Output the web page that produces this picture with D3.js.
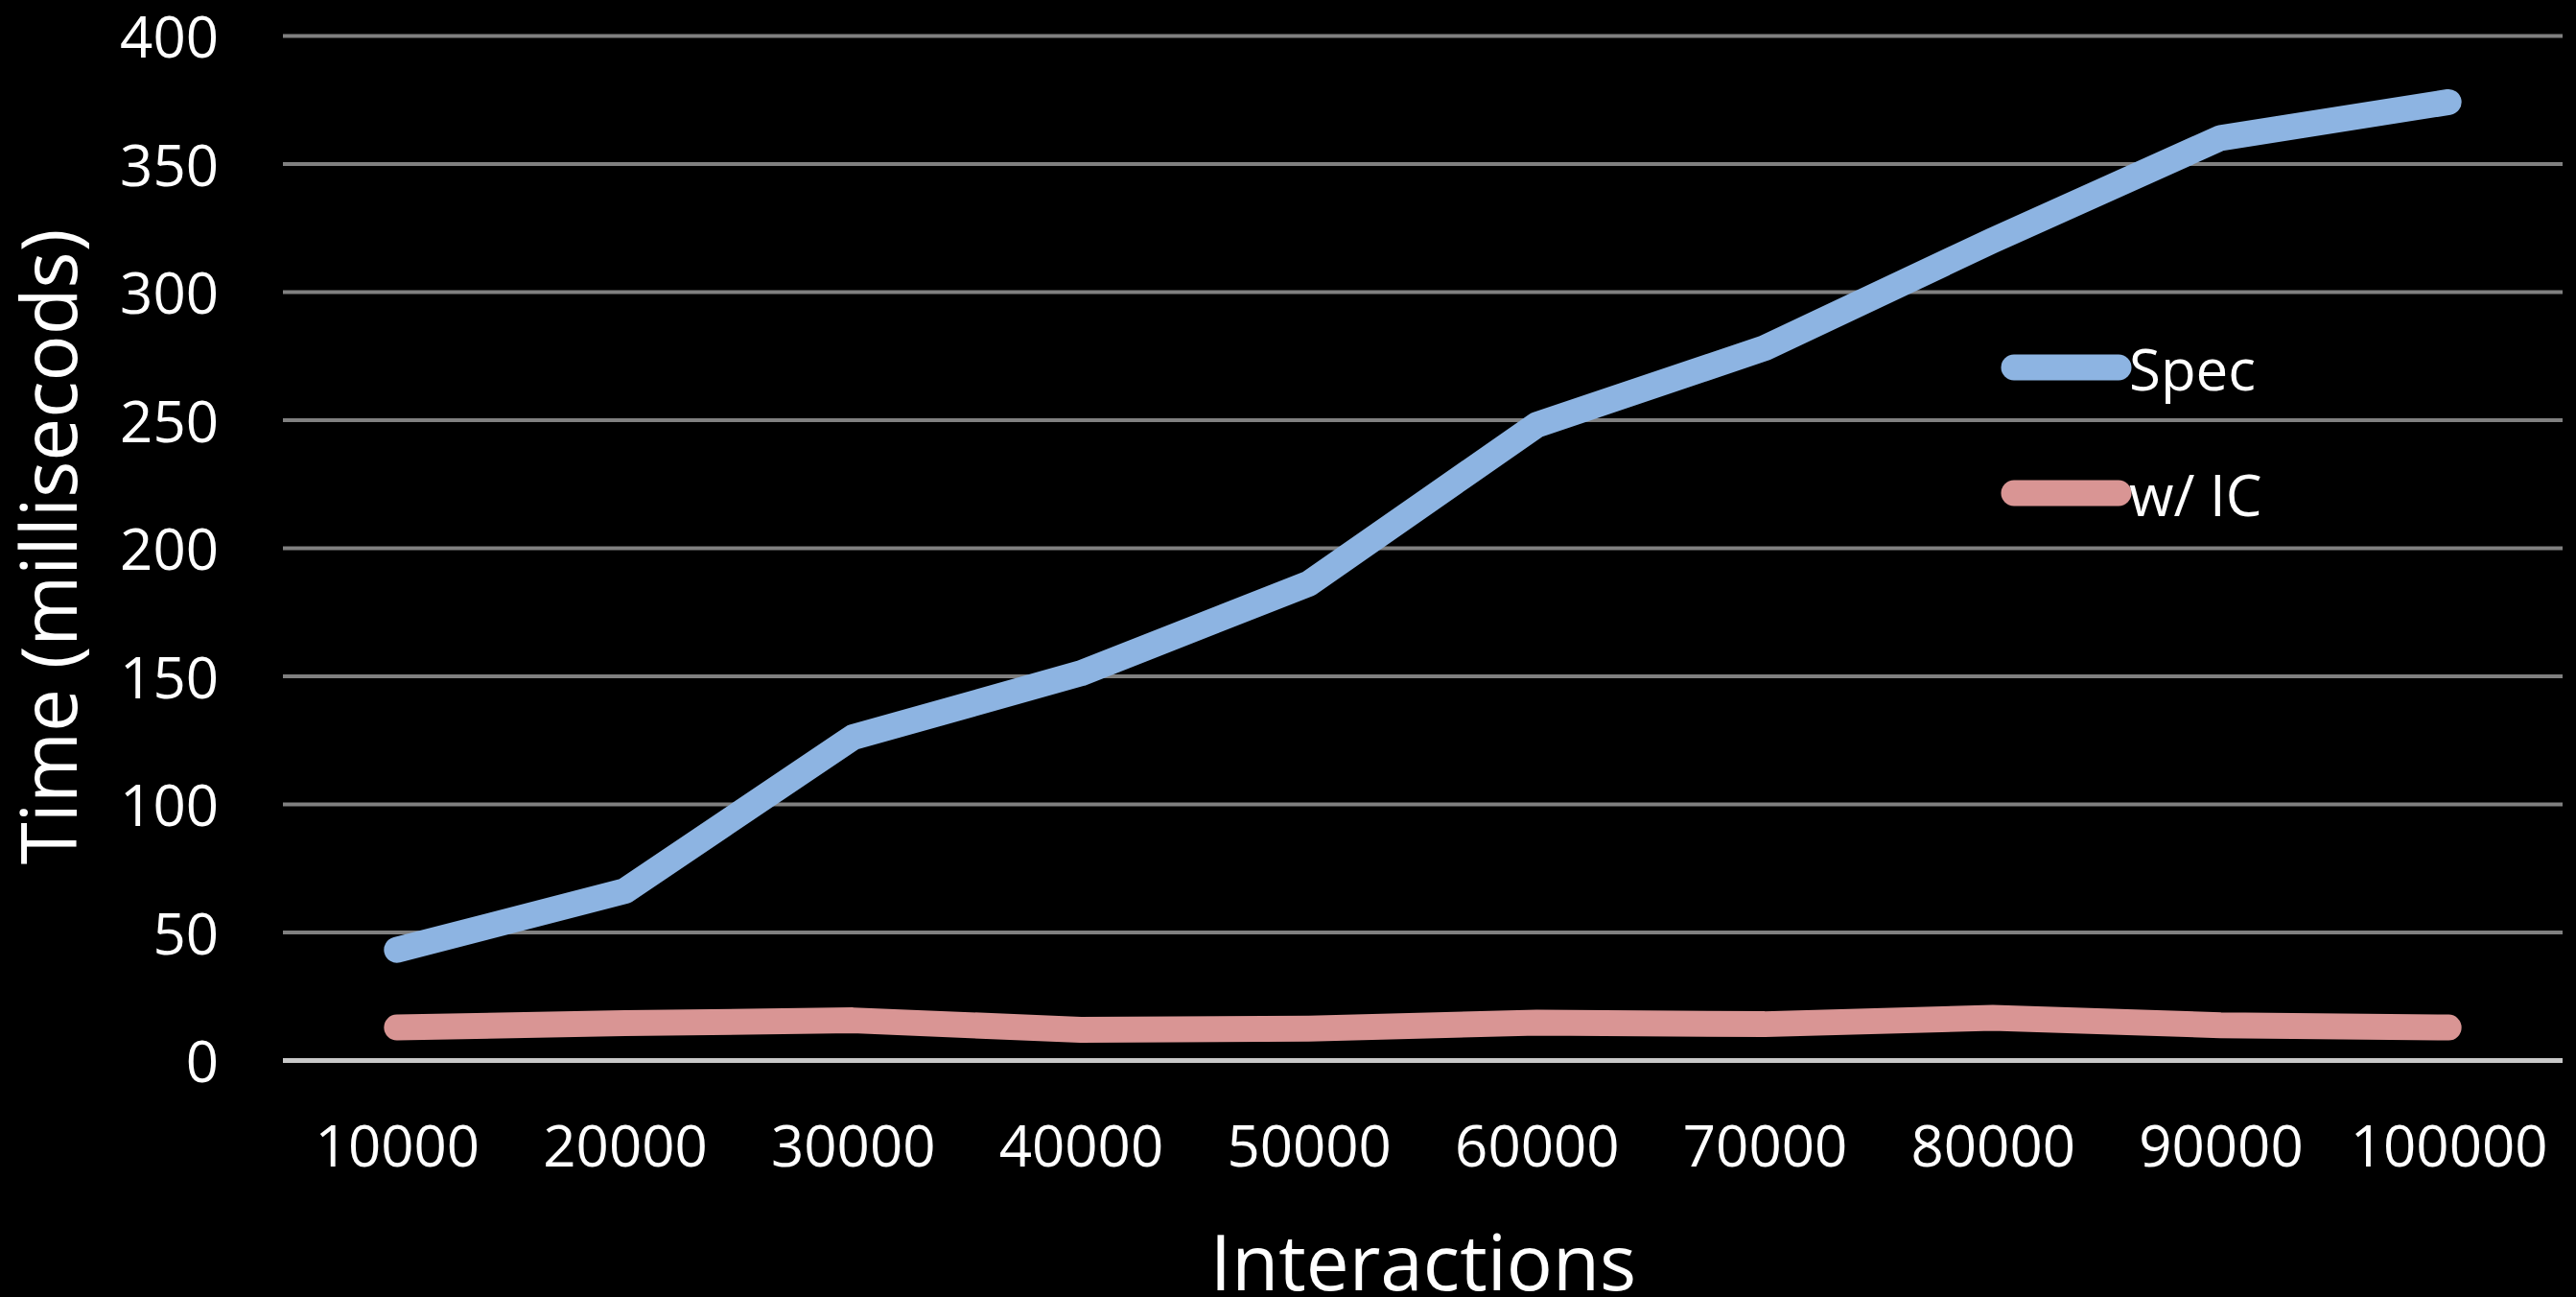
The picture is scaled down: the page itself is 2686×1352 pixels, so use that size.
<!DOCTYPE html>
<html>
<head>
<meta charset="utf-8">
<script src="https://cdn.jsdelivr.net/npm/d3@7"></script>
<style>
  html, body { margin: 0; padding: 0; background: #000; }
  svg { display: block; }
  text { font-family: "Open Sans", sans-serif; fill: #fff; }
</style>
</head>
<body>
<script>
// chart values
var interactions = ["10000", "20000", "30000", "40000", "50000", "60000", "70000", "80000", "90000", "100000"];
var specTimes = [43, 66, 126, 151, 186, 248, 278, 320, 360, 374];
var icTimes = [12.7, 14.4, 15.5, 11.8, 12.3, 14.6, 14, 16.5, 13.6, 12.7];
var yTicks = [0, 50, 100, 150, 200, 250, 300, 350, 400];
var seriesNames = ["Spec", "w/ IC"];
var seriesColors = ["#8db4e2", "#d99594"];

var W = 2686, H = 1352;
var svg = d3.select("body").append("svg").attr("width", W).attr("height", H);

var xScale = d3.scalePoint().domain(interactions).range([295, 2672]).padding(0.5);
var yScale = d3.scaleLinear().domain([0, 400]).range([1105, 37]);

// gridlines + y labels
var yAxis = d3.axisLeft(yScale).tickValues(yTicks).tickSize(-(2672 - 295)).tickPadding(67);
var yG = svg.append("g").attr("transform", "translate(295,0)").call(yAxis);
yG.select(".domain").remove();
yG.selectAll(".tick line")
  .style("stroke", function(d){ return d === 0 ? "#c8c8c8" : "#808080" })
  .style("stroke-width", function(d){ return d === 0 ? "5px" : "4px" });
yG.selectAll(".tick text")
  .style("font-size", "60px")
  .style("fill", "#fff")
  .attr("dy", "0.38em");

// x labels
var xAxis = d3.axisBottom(xScale).tickSize(0).tickPadding(0);
var xG = svg.append("g").attr("transform", "translate(0,1216)").call(xAxis);
xG.select(".domain").remove();
xG.selectAll(".tick text")
  .style("font-size", "60px")
  .style("fill", "#fff")
  .attr("y", 0)
  .attr("dy", 0);

// lines
var line = d3.line()
  .x(function(d, i){ return xScale(interactions[i]) })
  .y(function(d){ return yScale(d) });

[specTimes, icTimes].forEach(function(vals, k){
  svg.append("path")
    .datum(vals)
    .attr("d", line)
    .style("fill", "none")
    .style("stroke", seriesColors[k])
    .style("stroke-width", "27px")
    .style("stroke-linecap", "round")
    .style("stroke-linejoin", "round");
});

// legend
var legendY = [383, 514];
seriesNames.forEach(function(name, k){
  svg.append("line")
    .attr("x1", 2100).attr("x2", 2209)
    .attr("y1", legendY[k]).attr("y2", legendY[k])
    .style("stroke", seriesColors[k])
    .style("stroke-width", "27px")
    .style("stroke-linecap", "round");
  svg.append("text")
    .attr("x", 2220)
    .attr("y", legendY[k] + 24)
    .style("font-size", "60px")
    .text(name);
});

// axis titles
svg.append("text")
  .attr("transform", "translate(80,570) rotate(-90)")
  .attr("text-anchor", "middle")
  .style("font-size", "80px")
  .text("Time (millisecods)");

svg.append("text")
  .attr("x", 1484)
  .attr("y", 1345)
  .attr("text-anchor", "middle")
  .style("font-size", "80px")
  .text("Interactions");
</script>
</body>
</html>
